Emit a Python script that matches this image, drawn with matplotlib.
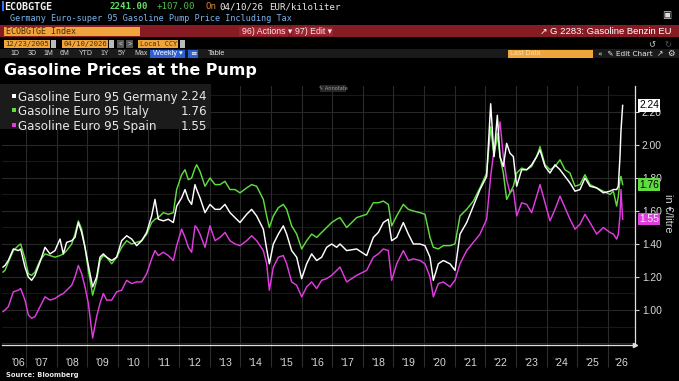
import matplotlib
matplotlib.use('Agg')
import matplotlib.pyplot as plt
import matplotlib.patches as mpatches
from matplotlib.ticker import FixedLocator, NullFormatter, FixedFormatter
import numpy as np

# ---------------- data (decimal years, EUR per litre) ----------------
dates = [
    2006.250, 2006.315, 2006.424, 2006.587, 2006.751, 2006.827, 2006.968, 2007.077, 2007.186, 2007.295,
    2007.458, 2007.622, 2007.785, 2007.948, 2008.112, 2008.220, 2008.329, 2008.493, 2008.601, 2008.710,
    2008.819, 2008.928, 2009.037, 2009.178, 2009.309, 2009.418, 2009.527, 2009.636, 2009.799, 2009.962,
    2010.125, 2010.289, 2010.452, 2010.615, 2010.779, 2010.942, 2011.105, 2011.214, 2011.323, 2011.486,
    2011.649, 2011.813, 2011.922, 2012.085, 2012.194, 2012.303, 2012.411, 2012.520, 2012.575, 2012.684,
    2012.847, 2013.010, 2013.174, 2013.337, 2013.500, 2013.663, 2013.827, 2013.990, 2014.208, 2014.371,
    2014.534, 2014.752, 2014.861, 2014.948, 2015.079, 2015.242, 2015.405, 2015.514, 2015.677, 2015.841,
    2016.004, 2016.167, 2016.330, 2016.494, 2016.657, 2016.820, 2016.984, 2017.147, 2017.256,
    2017.474, 2017.800, 2018.127, 2018.345, 2018.508, 2018.671, 2018.834, 2018.943, 2019.107, 2019.324,
    2019.488, 2019.651, 2019.869, 2020.032, 2020.195, 2020.304, 2020.467, 2020.631, 2020.848, 2021.012,
    2021.175, 2021.393, 2021.610, 2021.828, 2022.046, 2022.177, 2022.285, 2022.394, 2022.481, 2022.590,
    2022.699, 2022.808, 2022.917, 2023.026, 2023.189, 2023.352, 2023.515, 2023.679, 2023.788, 2023.951,
    2024.114, 2024.278, 2024.441, 2024.604, 2024.767, 2024.931, 2025.094, 2025.257, 2025.420, 2025.638,
    2025.856, 2026.074, 2026.183, 2026.291, 2026.346, 2026.400, 2026.433, 2026.487,
]

germany = [
    1.26, 1.27, 1.30, 1.37, 1.36, 1.37, 1.26, 1.20, 1.18, 1.21,
    1.29, 1.38, 1.34, 1.36, 1.43, 1.34, 1.41, 1.42, 1.44, 1.53,
    1.47, 1.38, 1.27, 1.14, 1.20, 1.32, 1.34, 1.32, 1.30, 1.32,
    1.42, 1.45, 1.43, 1.39, 1.42, 1.47, 1.57, 1.67, 1.55, 1.54,
    1.55, 1.53, 1.63, 1.68, 1.73, 1.67, 1.64, 1.76, 1.73, 1.68,
    1.59, 1.64, 1.61, 1.61, 1.64, 1.59, 1.56, 1.53, 1.58, 1.61,
    1.57, 1.49, 1.37, 1.28, 1.40, 1.46, 1.51, 1.46, 1.36, 1.32,
    1.19, 1.28, 1.34, 1.30, 1.32, 1.38, 1.40, 1.38, 1.40,
    1.36, 1.37, 1.33, 1.44, 1.47, 1.53, 1.55, 1.42, 1.44, 1.53,
    1.46, 1.40, 1.40, 1.39, 1.32, 1.18, 1.28, 1.30, 1.28, 1.24,
    1.46, 1.53, 1.63, 1.73, 1.81, 2.25, 1.93, 2.18, 1.93, 1.87,
    2.01, 1.95, 1.93, 1.75, 1.85, 1.85, 1.88, 1.93, 1.97, 1.87,
    1.83, 1.88, 1.85, 1.81, 1.77, 1.72, 1.73, 1.80, 1.75, 1.74,
    1.71, 1.72, 1.73, 1.73, 1.75, 1.93, 2.09, 2.24,
]

italy = [
    1.23, 1.24, 1.29, 1.36, 1.39, 1.40, 1.31, 1.22, 1.21, 1.23,
    1.30, 1.34, 1.33, 1.32, 1.33, 1.34, 1.36, 1.40, 1.46, 1.54,
    1.49, 1.38, 1.24, 1.09, 1.18, 1.30, 1.33, 1.32, 1.28, 1.32,
    1.38, 1.42, 1.40, 1.41, 1.42, 1.46, 1.53, 1.55, 1.56, 1.59,
    1.58, 1.59, 1.73, 1.82, 1.85, 1.79, 1.80, 1.86, 1.88, 1.84,
    1.75, 1.80, 1.76, 1.76, 1.78, 1.73, 1.73, 1.71, 1.74, 1.76,
    1.75, 1.67, 1.57, 1.50, 1.57, 1.62, 1.64, 1.61, 1.51, 1.46,
    1.37, 1.42, 1.46, 1.44, 1.47, 1.50, 1.53, 1.55, 1.56,
    1.50, 1.56, 1.58, 1.65, 1.65, 1.66, 1.64, 1.51, 1.57, 1.64,
    1.61, 1.60, 1.59, 1.58, 1.44, 1.38, 1.37, 1.39, 1.39, 1.40,
    1.57, 1.61, 1.66, 1.74, 1.83, 2.11, 1.93, 2.07, 1.93, 1.83,
    1.67, 1.71, 1.75, 1.83, 1.86, 1.85, 1.87, 1.93, 1.99, 1.88,
    1.85, 1.87, 1.91, 1.85, 1.83, 1.75, 1.76, 1.82, 1.76, 1.74,
    1.72, 1.70, 1.72, 1.63, 1.69, 1.79, 1.81, 1.76,
]

spain = [
    0.99, 1.00, 1.02, 1.11, 1.12, 1.13, 1.06, 0.97, 0.95, 0.96,
    1.02, 1.08, 1.06, 1.07, 1.09, 1.10, 1.12, 1.15, 1.20, 1.27,
    1.22, 1.14, 1.04, 0.83, 0.96, 1.04, 1.10, 1.06, 1.06, 1.11,
    1.12, 1.18, 1.16, 1.17, 1.17, 1.22, 1.31, 1.36, 1.33, 1.35,
    1.33, 1.30, 1.39, 1.49, 1.44, 1.38, 1.35, 1.51, 1.50, 1.46,
    1.38, 1.51, 1.42, 1.44, 1.47, 1.42, 1.40, 1.39, 1.42, 1.45,
    1.42, 1.36, 1.28, 1.12, 1.26, 1.32, 1.33, 1.28, 1.17, 1.15,
    1.08, 1.14, 1.17, 1.13, 1.18, 1.19, 1.21, 1.24, 1.26,
    1.17, 1.21, 1.24, 1.32, 1.34, 1.37, 1.36, 1.18, 1.28, 1.36,
    1.30, 1.31, 1.30, 1.28, 1.20, 1.08, 1.16, 1.17, 1.14, 1.18,
    1.28, 1.36, 1.41, 1.46, 1.55, 1.81, 1.97, 2.03, 2.14, 1.93,
    1.79, 1.71, 1.73, 1.57, 1.65, 1.64, 1.59, 1.69, 1.76, 1.65,
    1.54, 1.61, 1.69, 1.62, 1.55, 1.49, 1.52, 1.58, 1.53, 1.46,
    1.50, 1.47, 1.46, 1.43, 1.46, 1.57, 1.73, 1.55,
]

series_names = ['Gasoline Euro 95 Germany', 'Gasoline Euro 95 Italy', 'Gasoline Euro 95 Spain']
series_colors = ['#ffffff', '#5fdc3f', '#e03ce0']
year_boundaries = list(range(2007, 2027))
year_labels = ["'06", "'07", "'08", "'09", "'10", "'11", "'12", "'13", "'14", "'15", "'16",
               "'17", "'18", "'19", "'20", "'21", "'22", "'23", "'24", "'25", "'26"]
y_ticks = [1.00, 1.20, 1.40, 1.60, 1.80, 2.00, 2.20]

# ---------------- figure ----------------
W, H = 679, 381
fig = plt.figure(figsize=(W / 100, H / 100), dpi=100, facecolor='black')


def fx(x):
    return x / W


def fy(y):
    return 1 - y / H


def rect(x0, y0, x1, y1, color, z=0):
    fig.add_artist(mpatches.Rectangle((fx(x0), fy(y1)), (x1 - x0) / W, (y1 - y0) / H,
                                      transform=fig.transFigure, facecolor=color,
                                      edgecolor='none', zorder=z))


def txt(x, y, s, **kw):
    kw.setdefault('va', 'center')
    kw.setdefault('ha', 'left')
    fig.text(fx(x), fy(y), s, **kw)


MONO = 'DejaVu Sans Mono'
SANS = 'Liberation Sans'
SANS_L = ['Liberation Sans', 'DejaVu Sans']

# --- header row 1 ---
rect(2, 1, 4, 11, '#3070ff')
txt(4, 6.5, 'ECOBGTGE', family=MONO, fontsize=7.2, color='#f0f0f0', weight='bold')
txt(110, 6.5, '2241.00', family=MONO, fontsize=6.6, color='#66e066', weight='bold')
txt(157, 6.5, '+107.00', family=MONO, fontsize=6.6, color='#4dbf4d')
txt(206, 6.5, 'On', family=MONO, fontsize=6.6, color='#d98a30')
txt(219, 6.5, '04/10/26', family=MONO, fontsize=6.6, color='#f0f0f0')
txt(269, 6.5, 'EUR/kiloliter', family=MONO, fontsize=6.6, color='#e8e8e8')
# header row 2
txt(10, 18.5, 'Germany Euro-super 95 Gasoline Pump Price Including Tax', family=MONO,
    fontsize=6.1, color='#7ab4ea')
txt(667, 15, '\u25a3', family=['DejaVu Sans'], fontsize=7, color='#dddddd', ha='center')

# red command bar
rect(0, 25, W, 37, '#861b24')
rect(4, 27, 140, 35.5, '#f0a43c')
txt(6, 31.3, 'ECOBGTGE Index', family=MONO, fontsize=6, color='#4a2c08')
rect(239, 26.5, 288, 36, '#9c2430')
txt(242, 31.3, '96) Actions \u25be', family=SANS_L, fontsize=6.3, color='#f4e6e6')
rect(292, 26.5, 333, 36, '#9c2430')
txt(295, 31.3, '97) Edit \u25be', family=SANS_L, fontsize=6.3, color='#f4e6e6')
txt(540, 31.3, '\u2197', family=['DejaVu Sans'], fontsize=6.5, color='#ffffff')
txt(550, 31.3, 'G 2283: Gasoline Benzin EU', family=SANS, fontsize=6.8, color='#ffffff')

# date row
rect(4, 40, 50, 48, '#f0a43c')
txt(5.5, 44.2, '12/23/2005', family=MONO, fontsize=5.2, color='#4a2c08')
rect(51, 40, 56, 48, '#bbbbbb')
rect(62, 40, 108, 48, '#f0a43c')
txt(63.5, 44.2, '04/10/2026', family=MONO, fontsize=5.2, color='#4a2c08')
rect(109, 40, 114, 48, '#bbbbbb')
rect(117, 40, 124, 48, '#555555')
txt(120.5, 44, '<', family=SANS, fontsize=5, color='#dddddd', ha='center')
rect(126, 40, 133, 48, '#555555')
txt(129.5, 44, '>', family=SANS, fontsize=5, color='#dddddd', ha='center')
rect(138, 40, 178, 48, '#f0a43c')
txt(139.5, 44.2, 'Local CCY', family=MONO, fontsize=4.9, color='#4a2c08')
rect(180, 40, 185, 48, '#bbbbbb')
txt(652, 44.5, '\u21ba', family=['DejaVu Sans'], fontsize=6, color='#cccccc', ha='center')
txt(668, 44.5, '\u21bb', family=['DejaVu Sans'], fontsize=6, color='#555555', ha='center')

# period row
rect(0, 49, W, 58, '#1a1a1a')
for lab, xp in [('1D', 10), ('3D', 28), ('1M', 43), ('6M', 60), ('YTD', 79), ('1Y', 100),
                ('5Y', 118), ('Max', 134)]:
    txt(xp, 53.5, lab, family=SANS, fontsize=5, color='#d8d8d8')
rect(150, 49.5, 185, 57.5, '#2e5fd0')
txt(153, 53.5, 'Weekly \u25be', family=SANS_L, fontsize=5.3, color='#ffffff')
rect(188, 49.5, 198, 57.5, '#2e5fd0')
txt(193, 53.3, '\u2261', family=['DejaVu Sans'], fontsize=5.5, color='#ffffff', ha='center')
txt(208, 53.5, 'Table', family=SANS, fontsize=5.3, color='#e0e0e0')
rect(508, 49.5, 593, 57.5, '#f0a43c')
txt(510, 53.5, 'Last Data', family=SANS, fontsize=5, color='#f8e0b0')
txt(598, 53.5, '\u00ab  \u270e Edit Chart', family=['DejaVu Sans'], fontsize=5.3, color='#e8e8e8')
txt(657, 53.5, '\u2197', family=['DejaVu Sans'], fontsize=5.5, color='#e8e8e8')
txt(667, 53.5, '\u2699', family=['DejaVu Sans'], fontsize=6, color='#e8e8e8')

# title
txt(4, 70.5, 'Gasoline Prices at the Pump', family='DejaVu Sans', fontsize=11.4,
    weight='bold', color='#ffffff')

# ---------------- plot ----------------
ax_left, ax_right, ax_top, ax_bottom = 2, 635, 86, 345
ax = fig.add_axes([fx(ax_left), fy(ax_bottom), (ax_right - ax_left) / W, (ax_bottom - ax_top) / H])
ax.set_facecolor('black')

px_per_year = 30.62
x_ref_px, x_ref_year = 316.85, 2016.5
ax.set_xlim(x_ref_year + (ax_left - x_ref_px) / px_per_year,
            x_ref_year + (ax_right - x_ref_px) / px_per_year)
px_per_unit = 165.0
ax.set_ylim(2.00 - (ax_bottom - 145) / px_per_unit, 2.00 + (145 - ax_top) / px_per_unit)

# grid
for k in range(8, 24):
    ax.axhline(k / 10, color='#272727' if k % 2 == 0 else '#181818', lw=0.8, zorder=0)
for yb in year_boundaries:
    ax.axvline(yb, color='#2a2a2a', lw=0.8, zorder=0)

# series
for vals, col, z in [(spain, series_colors[2], 3), (italy, series_colors[1], 4),
                     (germany, series_colors[0], 5)]:
    ax.plot(dates, vals, color=col, lw=1.05, zorder=z, solid_joinstyle='round')

# spines
for s in ['left', 'top']:
    ax.spines[s].set_visible(False)
ax.spines['bottom'].set_color('#e0e0e0')
ax.spines['bottom'].set_linewidth(0.9)
ax.spines['right'].set_color('#e0e0e0')
ax.spines['right'].set_linewidth(0.9)
ax.plot([1.0], [0.0], marker='>', ms=3, color='#e0e0e0', transform=ax.transAxes, clip_on=False)

# y axis on right
ax.yaxis.tick_right()
ax.yaxis.set_major_locator(FixedLocator(y_ticks))
ax.set_yticklabels(['%.2f' % t for t in y_ticks], family=SANS, fontsize=7.4, color='#d8d8d8')
ax.tick_params(axis='y', which='major', direction='out', length=3, width=0.8, color='#d0d0d0', pad=2)

# x axis: separators at year boundaries, labels in between
xl = ax.get_xlim()
label_pos = []
edges = [xl[0]] + year_boundaries + [xl[1]]
for a, b in zip(edges[:-1], edges[1:]):
    label_pos.append((a + b) / 2)
label_pos[0] = 2006.75
ax.xaxis.set_major_locator(FixedLocator(year_boundaries))
ax.xaxis.set_major_formatter(NullFormatter())
ax.xaxis.set_minor_locator(FixedLocator(label_pos))
ax.xaxis.set_minor_formatter(FixedFormatter(year_labels))
ax.tick_params(axis='x', which='major', direction='out', length=16, width=0.8, color='#2e2e2e')
ax.tick_params(axis='x', which='minor', length=0, pad=9, labelsize=7.6, labelcolor='#d8d8d8')
for lab in ax.xaxis.get_minorticklabels():
    lab.set_family(SANS)

# last value boxes
last_vals = [germany[-1], italy[-1], spain[-1]]
box_txt_col = ['black', 'black', '#f4f4f4']
for v, col, tc in zip(last_vals, series_colors, box_txt_col):
    ax.text(1.0 + 4 / (ax_right - ax_left), v, '%.2f' % v, transform=ax.get_yaxis_transform(),
            ha='left', va='center', family=SANS, fontsize=7.4, color=tc, zorder=10,
            bbox=dict(boxstyle='square,pad=0.12', fc=col, ec='none'), clip_on=False)

txt(668, 213, 'in \u20ac/litre', family=SANS, fontsize=7.8, color='#d8d8d8', rotation=-90,
    ha='center')

# legend panel
rect(0, 84, 211, 129, '#1b1b1b', z=5)
for i, (name, col, v) in enumerate(zip(series_names, series_colors, last_vals)):
    yy = 97 + i * 14.5
    rect(12, yy - 3, 16, yy + 1, col, z=6)
    fig.text(fx(18), fy(yy), name, family='DejaVu Sans', fontsize=8.6, color='#e8e8e8',
             va='center', ha='left', zorder=6)
    fig.text(fx(207), fy(yy), '%.2f' % v, family='DejaVu Sans', fontsize=8.6, color='#e8e8e8',
             va='center', ha='right', zorder=6)

# annotate tag
rect(320, 85, 346, 92, '#262626', z=5)
fig.text(fx(333), fy(88.5), '\u270e Annotate', family='DejaVu Sans', fontsize=3.6,
         color='#9a9a9a', va='center', ha='center', zorder=6)

# source
txt(6, 374.5, 'Source: Bloomberg', family='DejaVu Sans', fontsize=4.9, weight='bold',
    color='#e8e8e8')

fig.savefig('out.png', dpi=100, facecolor='black')
